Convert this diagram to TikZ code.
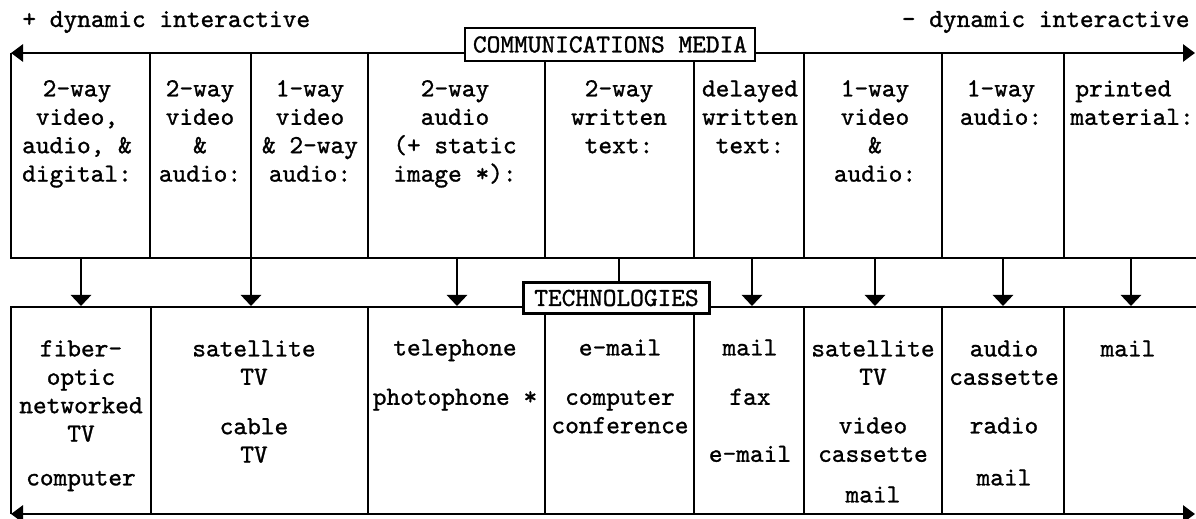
\documentclass[tikz,border=0pt]{standalone}
\usepackage{fontspec}
\usetikzlibrary{arrows.meta}
\newfontfamily\cellfam{lmmono10-regular}[Extension=.otf,FakeBold=1.1]
\newcommand\cellfont{\fontsize{26.1bp}{28.4bp}\selectfont\cellfam}
\newcommand\fs{\rule{0pt}{21bp}}
\begin{document}
\begin{tikzpicture}[x=1bp,y=-1bp,line width=2.8bp,
  lbl/.style={font=\cellfont,inner sep=0pt},
  cell/.style={font=\cellfont,align=center,inner sep=0pt,anchor=north},
  titlebox/.style={draw,fill=white,font=\cellfont,inner sep=0pt},
  arr/.style={-{Triangle[width=20bp,length=11bp]}},
  harr/.style={{Triangle[width=17bp,length=12bp]}-{Triangle[width=17bp,length=12bp]}}]
\useasboundingbox (0,0) rectangle (1196,519);
% axis labels
\node[lbl,anchor=base west] (plus) at (21,27) {+ dynamic interactive};
\node[lbl,anchor=base east] (minus) at (1191,27) {- dynamic interactive};
% top row frame
\coordinate (tl) at (11,53); \coordinate (tr) at (1195,53);
\draw[harr] (tl) -- (tr);
\draw (11,53) -- (11,258) -- (1196,258);
\foreach \x in {150,251,368,545,694,804,942,1064} \draw (\x,53) -- (\x,258);
% bottom row frame
\draw (1196,307) -- (11,307) -- (11,514);
\foreach \x in {151,368,545,694,804,942,1064} \draw (\x,307) -- (\x,514);
\coordinate (bl) at (11,514); \coordinate (br) at (1195,514);
\draw[harr] (bl) -- (br);
% title boxes
\node[titlebox,minimum width=290bp,minimum height=33bp] (comm) at (610,44.5) {COMMUNICATIONS MEDIA};
\node[titlebox,minimum width=186bp,minimum height=31bp] (tech) at (616.5,298) {TECHNOLOGIES};
% connectors
\foreach \x [count=\i] in {81,251,457,752,875,1003,1131} {
  \coordinate (s\i) at (\x,258); \coordinate (e\i) at (\x,306);
  \draw[arr] (s\i) -- (e\i);
}
\coordinate (s0) at (619,258);
\draw (s0) -- (s0 |- tech.north);
% media
\node[cell] (m1) at (77,74) {\fs 2-way\\video,\\audio, \&\\digital:};
\node[cell] (m2) at (200,74) {\fs 2-way\\video\\\&\\audio:};
\node[cell] (m3) at (310,74) {\fs 1-way\\video\\\& 2-way\\audio:};
\node[cell] (m4) at (455,74) {\fs 2-way\\audio\\(+ static\\image *):};
\node[cell] (m5) at (619,74) {\fs 2-way\\written\\text:};
\node[cell] (m6) at (750,74) {\fs delayed\\written\\text:};
\node[cell] (m7) at (875,74) {\fs 1-way\\video\\\&\\audio:};
\node[cell] (m8) at (1001,74) {\fs 1-way\\audio:};
\node[cell,anchor=north west,align=left] (m9) at (1069,74) {\fs\hspace*{5bp}printed\\material:};
% technologies
\node[cell] (t1) at (81,334) {\fs fiber-\\optic\\networked\\TV\\[15.4bp]computer};
\node[cell] (t2) at (254,334) {\fs satellite\\TV\\[21bp]cable\\TV};
\node[cell] (t3) at (455,333) {\fs telephone\\[21bp]photophone *};
\node[cell] (t4) at (620,333) {\fs e-mail\\[21bp]computer\\conference};
\node[cell] (t5) at (750,333) {\fs mail\\[21bp]fax\\[28.6bp]e-mail};
\node[cell] (t6) at (873,334) {\fs satellite\\TV\\[20.2bp]video\\cassette\\[12.2bp]mail};
\node[cell] (t7) at (1004,334) {\fs audio\\cassette\\[20.2bp]radio\\[23.6bp]mail};
\node[cell] (t8) at (1128,334) {\fs mail};
\end{tikzpicture}
\end{document}
